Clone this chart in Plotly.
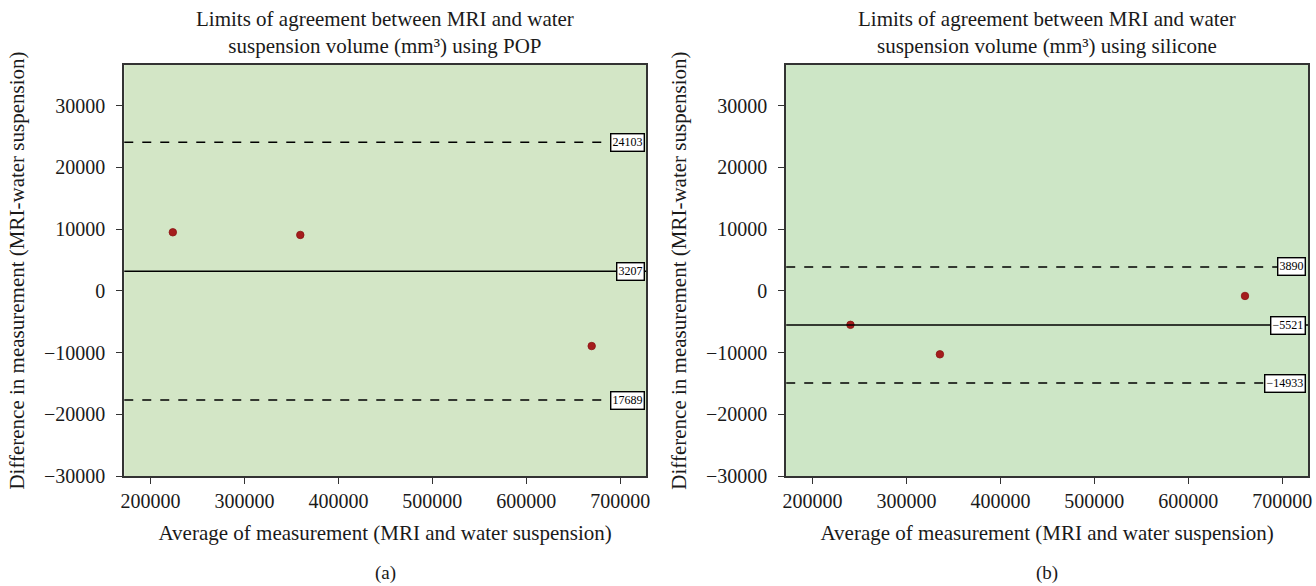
import plotly.graph_objects as go

# ---- data ----
pop_avg = [223700, 359400, 669600]
pop_diff = [9500, 9070, -8930]
pop_mean = 3207
pop_upper = 24103
pop_lower = -17689
pop_labels = ["24103", "3207", "17689"]

sil_avg = [240400, 335600, 660400]
sil_diff = [-5490, -10270, -815]
sil_mean = -5521
sil_upper = 3890
sil_lower = -14933
sil_labels = ["3890", "\u22125521", "\u221214933"]

x_ticks = [200000, 300000, 400000, 500000, 600000, 700000]
y_ticks = [-30000, -20000, -10000, 0, 10000, 20000, 30000]
y_ticklabels = ["\u221230000", "\u221220000", "\u221210000", "0", "10000", "20000", "30000"]

titles = ["Limits of agreement between MRI and water<br>suspension volume (mm\u00b3) using POP",
          "Limits of agreement between MRI and water<br>suspension volume (mm\u00b3) using silicone"]
panel_labels = ["(a)", "(b)"]
x_title = "Average of measurement (MRI and water suspension)"
y_title = "Difference in measurement (MRI-water suspension)"

FONT = "Liberation Serif"
TXT = "#1a1a1a"
W, H = 1316, 586
K = 0.981  # observed vertical factor of the capture
bgs = ["#d3e6c6", "#cde6c6"]

fig = go.Figure()

panels = [
    (pop_avg, pop_diff, [pop_upper, pop_mean, pop_lower], pop_labels),
    (sil_avg, sil_diff, [sil_upper, sil_mean, sil_lower], sil_labels),
]
domains_x = [[121 / W, 646 / W], [787 / W, 1312 / W]]
ydom = [1 - 476 / K / H, 1 - 65 / K / H]

for i, (xs, ys, lines, labs) in enumerate(panels):
    xa = "x" if i == 0 else "x2"
    ya = "y" if i == 0 else "y2"
    fig.add_trace(go.Scatter(x=xs, y=ys, mode="markers", xaxis=xa, yaxis=ya,
                             marker=dict(color="#a51d1d", size=7.5,
                                         line=dict(color="#8a1414", width=0.8)),
                             showlegend=False))
    for j, (val, lab) in enumerate(zip(lines, labs)):
        fig.add_shape(type="line", xref=f"{xa} domain", yref=ya, x0=0, x1=1, y0=val, y1=val,
                      line=dict(color="black", width=1.5, dash="solid" if j == 1 else "dash"))
        fig.add_annotation(xref=f"{xa} domain", yref=ya, x=0.997, y=val, text=lab,
                           showarrow=False, xanchor="right", yanchor="middle",
                           bgcolor="white", bordercolor="black", borderwidth=1.4, borderpad=1,
                           font=dict(family=FONT, size=12, color="black"))
    cx = (domains_x[i][0] + domains_x[i][1]) / 2
    fig.add_annotation(xref="paper", yref="paper", x=cx, y=1 - 5 / H, text=titles[i],
                       showarrow=False, xanchor="center", yanchor="top",
                       font=dict(family=FONT, size=21, color=TXT))
    fig.add_annotation(xref="paper", yref="paper", x=cx, y=1 - 573 / K / H, text=panel_labels[i],
                       showarrow=False, xanchor="center", yanchor="middle",
                       font=dict(family=FONT, size=19, color=TXT))

axis_common = dict(showgrid=False, zeroline=False, showline=True, linecolor="#333", linewidth=2,
                   mirror=True, ticks="outside", ticklen=6, tickcolor="#333",
                   tickfont=dict(family=FONT, size=20, color=TXT))

for i in range(2):
    sx = "" if i == 0 else "2"
    fig.update_layout(**{
        f"xaxis{sx}": dict(domain=domains_x[i], range=[172000, 727500], tickvals=x_ticks,
                           ticktext=[str(v) for v in x_ticks], anchor=f"y{sx}",
                           title=dict(text=x_title, font=dict(family=FONT, size=21, color=TXT), standoff=14),
                           **axis_common),
        f"yaxis{sx}": dict(domain=ydom, range=[-30000, 36600], tickvals=y_ticks, ticktext=y_ticklabels,
                           anchor=f"x{sx}", ticklabelstandoff=7,
                           title=dict(text=y_title, font=dict(family=FONT, size=21, color=TXT), standoff=14),
                           **axis_common),
    })

fig.update_layout(
    width=W, height=H, margin=dict(l=0, r=0, t=0, b=0),
    paper_bgcolor="white", plot_bgcolor=bgs[0],
    font=dict(family=FONT),
)
fig.add_shape(type="rect", xref="x2 domain", yref="y2 domain", x0=0, x1=1, y0=0, y1=1,
              fillcolor=bgs[1], line=dict(width=0), layer="below")

post = (
    "document.body.style.margin='0px';"
    "document.body.style.overflow='hidden';"
    "document.documentElement.style.overflow='hidden';"
    "var g=document.getElementById('{plot_id}');"
    "g.style.display='block';"
    "g.parentNode.style.height='586px';"
    "g.parentNode.style.overflow='hidden';"
)
fig.write_html("out.html", post_script=post, config={"displayModeBar": False})
